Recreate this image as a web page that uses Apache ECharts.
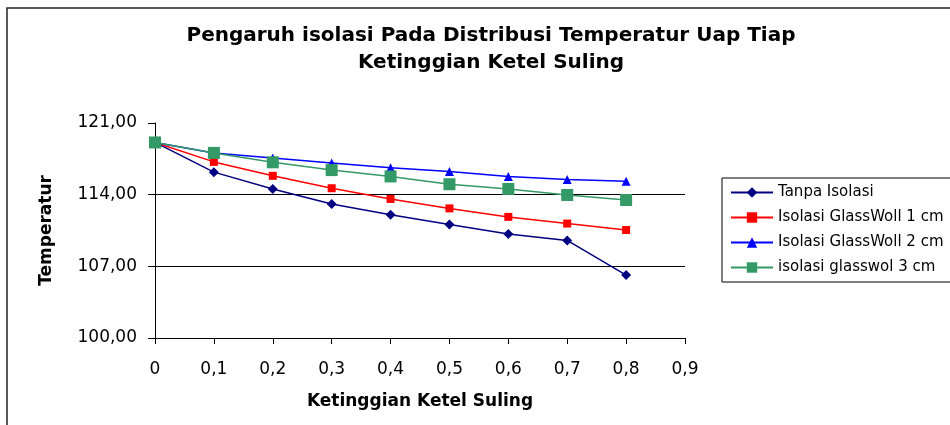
<!DOCTYPE html>
<html>
<head>
<meta charset="utf-8">
<script src="https://cdn.jsdelivr.net/npm/echarts@6/dist/echarts.min.js"></script>
<style>
  html, body { margin: 0; padding: 0; background: #fff; }
  #chart { width: 950px; height: 425px; }
</style>
</head>
<body>
<div id="chart"></div>
<script>
/* data */
var xValues = [0, 0.1, 0.2, 0.3, 0.4, 0.5, 0.6, 0.7, 0.8];
var seriesNames = ['Tanpa Isolasi', 'Isolasi GlassWoll 1 cm', 'Isolasi GlassWoll 2 cm', 'isolasi glasswol 3 cm'];
var tanpaIsolasi = [119.1, 116.2, 114.56, 113.08, 112.03, 111.08, 110.15, 109.53, 106.15];
var glassWoll1 = [119.1, 117.2, 115.84, 114.63, 113.58, 112.66, 111.83, 111.18, 110.55];
var glassWoll2 = [119.1, 118.08, 117.59, 117.1, 116.63, 116.27, 115.78, 115.48, 115.32];
var glassWoll3 = [119.1, 118.08, 117.16, 116.4, 115.78, 115.02, 114.56, 113.97, 113.48];

var colors = ['#000080', '#ff0000', '#0000ff', '#339966'];
var symbols = ['diamond', 'rect', 'triangle', 'rect'];
var symbolSizes = [10, 8, 9, 12];
var allValues = [tanpaIsolasi, glassWoll1, glassWoll2, glassWoll3];

function pairs(vals) {
    var out = [];
    for (var i = 0; i < vals.length; i++) {
        out.push([xValues[i], vals[i]]);
    }
    return out;
}

/* build the line series */
var ySeries = [];
for (var i = 0; i < seriesNames.length; i++) {
    ySeries.push({
        name: seriesNames[i],
        type: 'line',
        data: pairs(allValues[i]),
        symbol: symbols[i],
        symbolSize: symbolSizes[i],
        lineStyle: { color: colors[i], width: 1.5 },
        itemStyle: { color: colors[i] }
    });
}

var myChart = echarts.init(document.getElementById('chart'));
var fontName = 'DejaVu Sans';
var option = {
    animation: false,
    backgroundColor: '#fff',
    title: {
        text: 'Pengaruh isolasi Pada Distribusi Temperatur Uap Tiap\nKetinggian Ketel Suling',
        left: 486,
        top: 17,
        textAlign: 'center',
        textStyle: { fontFamily: fontName, fontWeight: 'bold', fontSize: 20, color: '#000', lineHeight: 27 }
    },
    legend: {
        orient: 'vertical',
        left: 722,
        top: 178,
        padding: [7, 10, 7, 8],
        itemWidth: 42,
        itemHeight: 13,
        itemGap: 10,
        borderColor: '#000',
        borderWidth: 1,
        data: seriesNames,
        textStyle: { fontFamily: fontName, fontSize: 15, color: '#000' }
    },
    graphic: [{
        type: 'rect',
        shape: { x: 7, y: 8, width: 1000, height: 500 },
        style: { fill: 'none', stroke: '#222', lineWidth: 1.5 },
        silent: true
    }],
    grid: { left: 155, right: 265, top: 123, bottom: 87 },
    xAxis: {
        type: 'value',
        min: 0,
        max: 0.9,
        interval: 0.1,
        name: 'Ketinggian Ketel Suling',
        nameLocation: 'middle',
        nameGap: 55,
        nameTextStyle: { fontFamily: fontName, fontWeight: 'bold', fontSize: 17, color: '#000' },
        axisLine: { lineStyle: { color: '#000', width: 1 } },
        axisTick: { inside: false, length: 6, lineStyle: { color: '#000' } },
        splitLine: { show: false },
        axisLabel: {
            margin: 23,
            fontFamily: fontName, fontSize: 17, color: '#000',
            formatter: function (v) { return String(Math.round(v * 10) / 10).replace('.', ','); }
        }
    },
    yAxis: {
        type: 'value',
        min: 100,
        max: 121,
        interval: 7,
        name: 'Temperatur',
        nameLocation: 'middle',
        nameRotate: 90,
        nameGap: 100,
        nameTextStyle: { fontFamily: fontName, fontWeight: 'bold', fontSize: 17, color: '#000' },
        axisLine: { show: true, lineStyle: { color: '#000', width: 1 } },
        axisTick: { show: true, inside: false, length: 7, lineStyle: { color: '#000' } },
        splitLine: { show: true, lineStyle: { color: ['#000', '#000', '#000', 'transparent'], width: 1 } },
        axisLabel: {
            margin: 18,
            fontFamily: fontName, fontSize: 17, color: '#000',
            formatter: function (v) { return v.toFixed(2).replace('.', ','); }
        }
    },
    series: ySeries
};
myChart.setOption(option);
</script>
</body>
</html>
